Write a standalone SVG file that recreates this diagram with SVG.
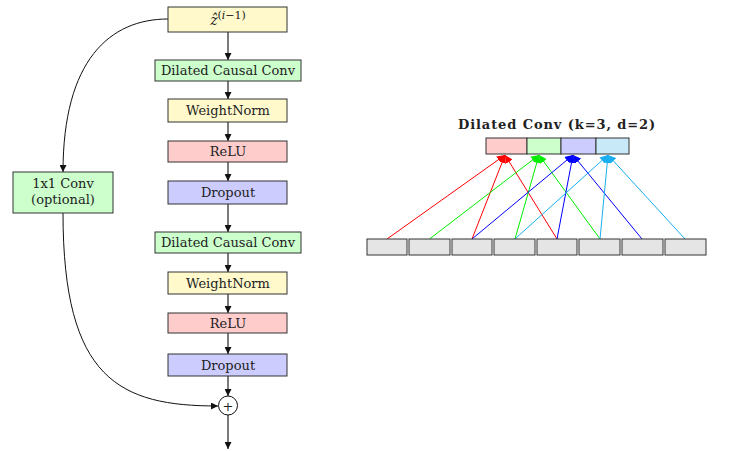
<svg xmlns="http://www.w3.org/2000/svg" width="729" height="451" viewBox="0 0 729 451">
<style>
text{font-family:"DejaVu Serif","Liberation Serif",serif;font-size:13px;fill:#222;text-anchor:middle}
.box{stroke:#333;stroke-width:1}
.yel{fill:#fff9cc}.grn{fill:#ccffcc}.red{fill:#ffcccc}.blu{fill:#ccccff}.cya{fill:#c8e9f8}.gry{fill:#e5e5e5}
.flow{stroke:#444;stroke-width:1.4;fill:none}
.curve{stroke:#111;stroke-width:1;fill:none}
.c{stroke-width:1;fill:none}
</style>
<defs>
<marker id="ak" markerUnits="userSpaceOnUse" markerWidth="8" markerHeight="7" refX="7" refY="3.5" orient="auto"><path d="M0,0 L7,3.5 L0,7 Z" fill="#111"/></marker>
<marker id="ar" markerUnits="userSpaceOnUse" markerWidth="9" markerHeight="8" refX="8" refY="4" orient="auto"><path d="M0,0 L8,4 L0,8 Z" fill="#ff0000"/></marker>
<marker id="ag" markerUnits="userSpaceOnUse" markerWidth="9" markerHeight="8" refX="8" refY="4" orient="auto"><path d="M0,0 L8,4 L0,8 Z" fill="#00ee00"/></marker>
<marker id="ab" markerUnits="userSpaceOnUse" markerWidth="9" markerHeight="8" refX="8" refY="4" orient="auto"><path d="M0,0 L8,4 L0,8 Z" fill="#0000ff"/></marker>
<marker id="ac" markerUnits="userSpaceOnUse" markerWidth="9" markerHeight="8" refX="8" refY="4" orient="auto"><path d="M0,0 L8,4 L0,8 Z" fill="#18aef0"/></marker>
</defs>

<g id="connectors">
<g marker-end="url(#ak)">
<line class="flow" x1="228" y1="32" x2="228" y2="60"/>
<line class="flow" x1="228" y1="81" x2="228" y2="99"/>
<line class="flow" x1="228" y1="122" x2="228" y2="141"/>
<line class="flow" x1="228" y1="162" x2="228" y2="181"/>
<line class="flow" x1="228" y1="204" x2="228" y2="232"/>
<line class="flow" x1="228" y1="253" x2="228" y2="272"/>
<line class="flow" x1="228" y1="294" x2="228" y2="313"/>
<line class="flow" x1="228" y1="333" x2="228" y2="354"/>
<line class="flow" x1="228" y1="376" x2="228" y2="396"/>
<line class="flow" x1="228" y1="415" x2="228" y2="449"/>
<path class="curve" d="M168,19 C110,19 63,60 63,172"/>
<path class="curve" d="M63,213 C63,380 120,406 218,406"/>
</g>
<g stroke="#ff0000" marker-end="url(#ar)">
<line class="c" x1="387" y1="239" x2="505" y2="155"/>
<line class="c" x1="472" y1="239" x2="505" y2="155"/>
<line class="c" x1="557" y1="239" x2="505" y2="155"/>
</g>
<g stroke="#00ee00" marker-end="url(#ag)">
<line class="c" x1="429.5" y1="239" x2="539" y2="155"/>
<line class="c" x1="515" y1="239" x2="539" y2="155"/>
<line class="c" x1="600" y1="239" x2="539" y2="155"/>
</g>
<g stroke="#0000ff" marker-end="url(#ab)">
<line class="c" x1="472" y1="239" x2="573" y2="155"/>
<line class="c" x1="557" y1="239" x2="573" y2="155"/>
<line class="c" x1="642" y1="239" x2="573" y2="155"/>
</g>
<g stroke="#18aef0" marker-end="url(#ac)">
<line class="c" x1="515" y1="239" x2="608" y2="155"/>
<line class="c" x1="600" y1="239" x2="608" y2="155"/>
<line class="c" x1="685" y1="239" x2="608" y2="155"/>
</g>
</g>

<g id="input"><rect class="box yel" x="168" y="7" width="119" height="25"/><text x="228" y="25"><tspan font-style="italic" font-size="14">ẑ</tspan><tspan font-size="11" dy="-6">(<tspan font-style="italic">i</tspan>−1)</tspan></text></g>
<g id="dcc1"><rect class="box grn" x="155" y="60" width="146" height="21"/><text x="228" y="75">Dilated Causal Conv</text></g>
<g id="wn1"><rect class="box yel" x="168" y="99" width="119" height="23"/><text x="228" y="115">WeightNorm</text></g>
<g id="relu1"><rect class="box red" x="168" y="141" width="119" height="21"/><text x="228" y="156">ReLU</text></g>
<g id="drop1"><rect class="box blu" x="168" y="181" width="119" height="23"/><text x="228" y="197">Dropout</text></g>
<g id="dcc2"><rect class="box grn" x="155" y="232" width="146" height="21"/><text x="228" y="247">Dilated Causal Conv</text></g>
<g id="wn2"><rect class="box yel" x="168" y="272" width="119" height="22"/><text x="228" y="287.5">WeightNorm</text></g>
<g id="relu2"><rect class="box red" x="168" y="313" width="119" height="20"/><text x="228" y="327.5">ReLU</text></g>
<g id="drop2"><rect class="box blu" x="168" y="354" width="119" height="22"/><text x="228" y="369.5">Dropout</text></g>
<g id="sum"><circle cx="228" cy="405.5" r="9.5" fill="#fff" stroke="#111" stroke-width="1"/><text x="228" y="410.5" font-size="15">+</text></g>
<g id="conv1x1"><rect class="box grn" x="13" y="172" width="100" height="41"/><text x="63" y="188">1x1 Conv</text><text x="63" y="204">(optional)</text></g>

<g id="dilated">
<text x="557" y="129" font-weight="bold" font-size="16" letter-spacing="0.9">Dilated Conv (k=3, d=2)</text>
<rect class="box red" x="486" y="138" width="41" height="16"/>
<rect class="box grn" x="527" y="138" width="34" height="16"/>
<rect class="box blu" x="561" y="138" width="35" height="16"/>
<rect class="box cya" x="596" y="138" width="33" height="16"/>
</g>
<g id="inputs">
<rect class="box gry" x="367" y="239" width="40" height="16"/>
<rect class="box gry" x="409" y="239" width="41" height="16"/>
<rect class="box gry" x="452" y="239" width="40" height="16"/>
<rect class="box gry" x="494" y="239" width="41" height="16"/>
<rect class="box gry" x="537" y="239" width="40" height="16"/>
<rect class="box gry" x="579" y="239" width="41" height="16"/>
<rect class="box gry" x="622" y="239" width="41" height="16"/>
<rect class="box gry" x="665" y="239" width="41" height="16"/>
</g>
</svg>
